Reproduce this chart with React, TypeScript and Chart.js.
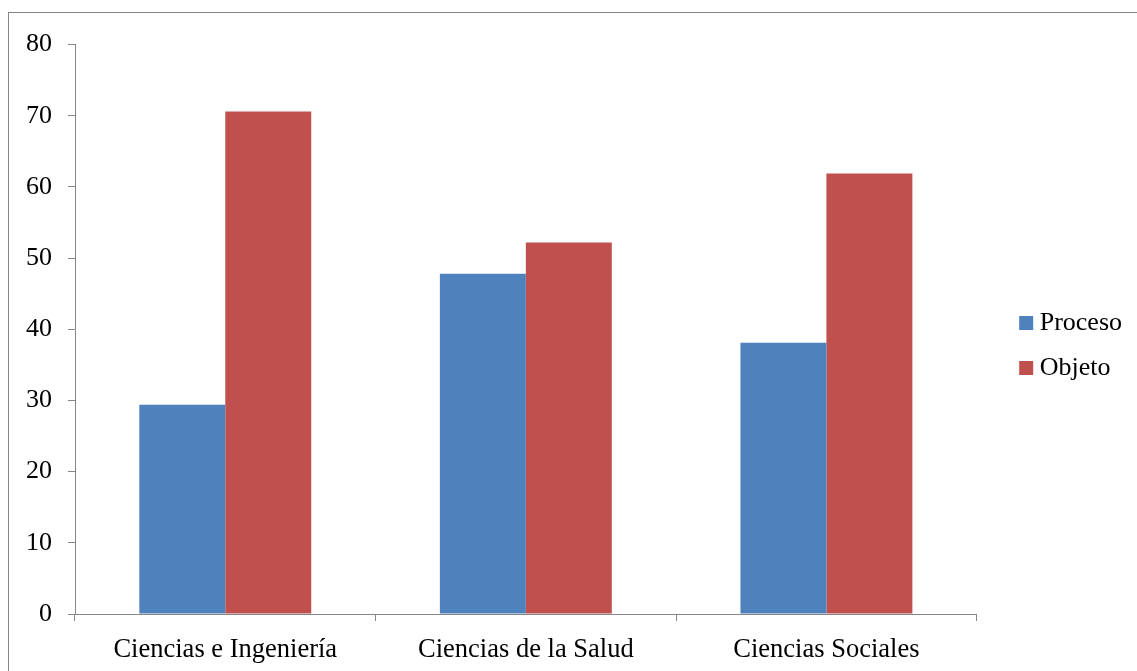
import React, { useEffect, useRef } from "react";
import { Chart, registerables } from "chart.js";

Chart.register(...registerables);

const categories = ["Ciencias e Ingeniería", "Ciencias de la Salud", "Ciencias Sociales"];
const procesoValues = [29.4, 47.8, 38.1];
const objetoValues = [70.6, 52.2, 61.9];
const seriesNames = ["Proceso", "Objeto"];
const yTicks = { min: 0, max: 80, step: 10 };

const AXIS_GRAY = "#868686";
const FAMILY = "'Liberation Serif', 'Times New Roman', serif";
const FONT = { family: FAMILY, size: 26 };
const CAT_FONT = { family: FAMILY, size: 26.5 };

// Empty axes used only as fixed-size spacers around the plot area.
const spacer = (position: "top" | "right", size: number) => ({
  type: "linear" as const,
  position,
  display: true,
  grid: { display: false },
  border: { display: false },
  ticks: { display: false },
  afterFit: (s: any) => {
    if (position === "top") s.height = size;
    else s.width = size;
  },
});

export default function App() {
  const canvasRef = useRef<HTMLCanvasElement | null>(null);

  useEffect(() => {
    if (!canvasRef.current) return;
    const chart = new Chart(canvasRef.current, {
      type: "bar",
      data: {
        labels: categories,
        datasets: [
          {
            label: seriesNames[0],
            data: procesoValues,
            backgroundColor: "#4F81BD",
            categoryPercentage: 0.572,
            barPercentage: 1,
          },
          {
            label: seriesNames[1],
            data: objetoValues,
            backgroundColor: "#C0504D",
            categoryPercentage: 0.572,
            barPercentage: 1,
          },
        ],
      },
      options: {
        animation: false,
        responsive: true,
        maintainAspectRatio: false,
        layout: { padding: { left: 0, top: 10, right: 10, bottom: 0 } },
        plugins: {
          tooltip: { enabled: false },
          legend: {
            position: "right",
            labels: {
              color: "#000",
              font: FONT,
              usePointStyle: true,
              pointStyle: "rect",
              boxWidth: 1,
              boxHeight: 14,
              padding: 19,
            },
          },
        },
        scales: {
          x: {
            grid: {
              display: true,
              drawOnChartArea: false,
              color: AXIS_GRAY,
              tickLength: 7,
              offset: true,
            },
            border: { display: true, color: AXIS_GRAY, width: 1 },
            ticks: { color: "#000", font: CAT_FONT, padding: 13, maxRotation: 0, autoSkip: false },
            afterFit: (s: any) => {
              s.height = 54;
            },
          },
          y: {
            min: yTicks.min,
            max: yTicks.max,
            grid: {
              display: true,
              drawOnChartArea: false,
              color: AXIS_GRAY,
              tickLength: 7,
            },
            border: { display: true, color: AXIS_GRAY, width: 1 },
            ticks: { stepSize: yTicks.step, color: "#000", font: FONT, padding: 16 },
            afterFit: (s: any) => {
              s.width = 66;
            },
          },
          topSpace: spacer("top", 19),
          rightSpace: spacer("right", 30),
        },
      },
    });
    return () => chart.destroy();
  }, []);

  return (
    <div style={{ position: "fixed", left: 0, top: 0, width: 1137, height: 671, overflow: "hidden", background: "#fff" }}>
      <div
        style={{
          position: "absolute",
          left: 8,
          top: 12,
          width: 1135,
          height: 665,
          boxSizing: "border-box",
          border: `1px solid ${AXIS_GRAY}`,
          background: "#fff",
        }}
      >
        <div style={{ position: "relative", width: 1133, height: 655 }}>
          <canvas ref={canvasRef} />
        </div>
      </div>
    </div>
  );
}
